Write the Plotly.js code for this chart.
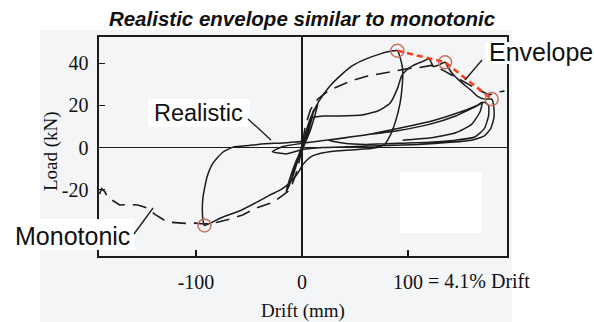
<!DOCTYPE html>
<html>
<head>
<meta charset="utf-8">
<script src="https://cdn.plot.ly/plotly-3.0.1.min.js"></script>
<style>html,body{margin:0;padding:0;background:#fff;}#chart{width:594px;height:322px;}</style>
</head>
<body>
<div id="chart"></div>
<script>
// Drift (mm) / Load (kN)
const realX = [0,3,6,9,11,9,5,1,-3,-7,-10,-8,-4,0,4,8,12,15,12,7,2,-3,-8,-12,-15,-11,-6,-1,3,6,
  9,16,26,37,48,60,74,84,90,
  93,95,94.5,92.5,88,83,77,65,50,35,20,8,1,-5,-12,-20,
  -30,-42.5,-58.5,-74.5,-85,-92,
  -93.5,-94,-93.4,-89.6,-84,-74.5,-65,-50,-35,-21,-8,0,4,7,9,
  20,35,57,72,83,90,94,98,105,112,120,124,128,135,
  138,142,148,155,160,165,172,179,
  181,181,178,172,160,140,110,80,50,20,0,-15,-28,-18,0,30,60,90,120,145,162,172,176,176,172,163,145,120,90,60,40,25,40,65,95,125,150,165,170,168,160,145,120,95];
const realY = [0,6,11,15,18,13,6,0,-5,-11,-16,-11,-5,1,8,14,18,21,15,7,1,-5,-12,-18,-21,-14,-7,-1,5,10,
  15,22,29,34.5,39,42,44.5,45.8,46,
  42,37,29,21,12,5.5,1,-0.5,-1,-1.5,-2.5,-4.5,-8,-13,-17,-20,
  -22.5,-25.9,-30,-33,-35.5,-37,
  -34,-29,-23.5,-14,-7.4,-2.1,0.2,1,1.8,2.1,2.6,3,6,11,14,
  15,15,15.5,17.5,21,28,34,36.5,39,40.5,42,38.5,39,40.5,
  38,35,32,29,27,24.5,23,23,
  19,14,9,5.5,3.5,2.5,1.5,1,0.5,0,-1,-3,-2,0.5,2,4,6,8,11,15,19,21.5,20,15,9,5,3.5,2.5,2,1.5,2,3.5,4.5,6.5,9.5,13,17,20,21.5,17,11,7,4.5,3.5];

const monoX = [-191,-189,-186,-183,-179,-172,-163,-155,-148,-138,-127,-118,-110,-101,-92,-80,-68,-56,-43,-27,-11,-4,0,
  3,8,15,25,34,48,62,83,100,111,122,132,145,158,168,177,184,191];
const monoY = [-22,-19.5,-21,-24,-25,-27.3,-27,-27.3,-28.3,-32,-35.4,-35.9,-36,-35.9,-36.3,-35.5,-34,-32,-28.7,-25.9,-20,-10,0,
  10,18,23,27,29,32,34,36,37.5,38,39,37,33.5,29.7,27,25,26.4,26.8];

const envX = [90,135,179];
const envY = [46,40.5,23];

const peakX = [-92,90,135,179];
const peakY = [-37,46,40.5,23];

const xTickVals = [-100,0,100];
const xTickText = ['-100','0','100'];
const yTickVals = [-20,0,20,40];
const yTickText = ['-20','0','20','40'];

const serif = 'Liberation Serif, Times New Roman, serif';
const sans = 'Liberation Sans, Arial, sans-serif';
const ink = '#1c1c1c';

// pixel -> paper helpers (plot area: x 99..507, y 37..256)
const L=99,R=507,T=37,B=256;
const px = v => (v-L)/(R-L);
const py = v => (B-v)/(B-T);

const traces = [
  {x: monoX, y: monoY, mode:'lines', line:{color:ink, width:1.6, dash:'14px,8px'}, hoverinfo:'skip', showlegend:false},
  {x: realX, y: realY, mode:'lines', line:{color:ink, width:1.5, shape:'spline', smoothing:0.5}, hoverinfo:'skip', showlegend:false},
  {x: envX, y: envY, mode:'lines', line:{color:'#ff3c1c', width:2.6, dash:'6px,4px'}, hoverinfo:'skip', showlegend:false},
  {x: peakX, y: peakY, mode:'markers', marker:{symbol:'circle-open', size:13, color:'#c4735f', line:{width:1.5}}, hoverinfo:'skip', showlegend:false}
];

const layout = {
  width:594, height:322,
  margin:{l:L, r:594-R, t:T, b:322-B},
  paper_bgcolor:'#ffffff',
  plot_bgcolor:'#f4f5f7',
  showlegend:false,
  title:{text:'<b><i>Realistic envelope similar to monotonic</i></b>', font:{family:sans, size:20.5, color:'#111'}, x:302/594, xanchor:'center', y:1-19/322, yanchor:'middle', yref:'container'},
  xaxis:{range:[-191.5,193.4], showline:true, mirror:true, linecolor:ink, linewidth:1.6,
    ticks:'inside', ticklen:6, tickwidth:1.3, tickcolor:ink, tickvals:xTickVals, ticktext:xTickText,
    tickfont:{family:serif, size:20, color:'#111'}, ticklabelstandoff:7,
    zeroline:true, zerolinecolor:ink, zerolinewidth:1.4, showgrid:false, fixedrange:true,
    title:{text:'Drift (mm)', font:{family:serif, size:19, color:'#111'}, standoff:12}},
  yaxis:{range:[-51.5,52.5], showline:true, mirror:true, linecolor:ink, linewidth:1.6,
    ticks:'inside', ticklen:6, tickwidth:1.3, tickcolor:ink, tickvals:yTickVals, ticktext:yTickText,
    tickfont:{family:serif, size:20, color:'#111'}, ticklabelstandoff:5,
    zeroline:true, zerolinecolor:ink, zerolinewidth:1.4, showgrid:false, fixedrange:true},
  shapes:[
    {type:'rect', xref:'paper', yref:'paper', x0:px(40), x1:px(512), y0:py(322), y1:py(30), fillcolor:'#f4f5f7', line:{width:0}, layer:'below'},
    {type:'rect', xref:'paper', yref:'paper', x0:px(400), x1:px(482), y0:py(233), y1:py(172), fillcolor:'#ffffff', line:{width:0}, layer:'between'},
    {type:'rect', xref:'paper', yref:'paper', x0:px(148), x1:px(250), y0:py(127), y1:py(99), fillcolor:'#ffffff', line:{width:0}, layer:'above'},
    {type:'rect', xref:'paper', yref:'paper', x0:px(485), x1:px(594), y0:py(64), y1:py(42), fillcolor:'#ffffff', line:{width:0}, layer:'above'},
    {type:'rect', xref:'paper', yref:'paper', x0:px(6), x1:px(135), y0:py(250), y1:py(219), fillcolor:'#ffffff', line:{width:0}, layer:'above'},
    {type:'line', xref:'paper', yref:'paper', x0:px(248), y0:py(119), x1:px(271), y1:py(140), line:{color:ink, width:1.3}, layer:'above'},
    {type:'line', xref:'paper', yref:'paper', x0:px(482), y0:py(60), x1:px(465), y1:py(80), line:{color:ink, width:1.3}, layer:'above'},
    {type:'line', xref:'paper', yref:'paper', x0:px(134), y0:py(234), x1:px(153), y1:py(208), line:{color:ink, width:1.3}, layer:'above'}
  ],
  annotations:[
    {text:'Load (kN)', xref:'paper', yref:'paper', x:px(51), y:py(151), xanchor:'center', yanchor:'middle', textangle:-90, showarrow:false, font:{family:serif, size:19, color:'#111'}},
    {text:'Realistic', xref:'paper', yref:'paper', x:px(198), y:py(113), xanchor:'center', yanchor:'middle', showarrow:false, font:{family:sans, size:23.5, color:'#111'}},
    {text:'Envelope', xref:'paper', yref:'paper', x:px(487), y:py(52), xanchor:'left', yanchor:'middle', showarrow:false, font:{family:sans, size:25, color:'#111'}},
    {text:'Monotonic', xref:'paper', yref:'paper', x:px(72), y:py(236), xanchor:'center', yanchor:'middle', showarrow:false, font:{family:sans, size:25, color:'#111'}},
    {text:'= 4.1% Drift', xref:'paper', yref:'paper', x:px(426), y:py(281), xanchor:'left', yanchor:'middle', showarrow:false, font:{family:serif, size:20, color:'#111'}}
  ]
};

Plotly.newPlot('chart', traces, layout, {staticPlot:true, displayModeBar:false});
</script>
</body>
</html>
